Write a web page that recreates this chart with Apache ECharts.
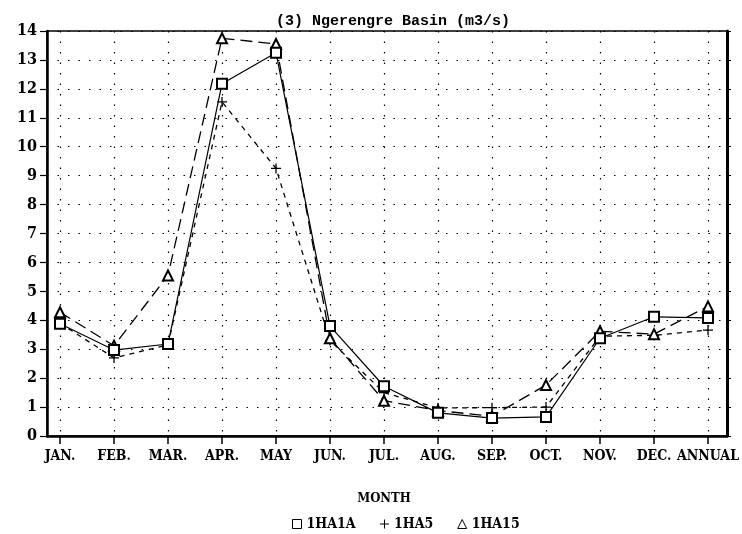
<!DOCTYPE html>
<html><head><meta charset="utf-8">
<script src="https://cdn.jsdelivr.net/npm/echarts@6/dist/echarts.min.js"></script>
<style>html,body{margin:0;padding:0;background:#fff}#c{width:742px;height:534px}</style>
</head><body><div id="c"></div>
<script>
const months = ['JAN.','FEB.','MAR.','APR.','MAY','JUN.','JUL.','AUG.','SEP.','OCT.','NOV.','DEC.','ANNUAL'];
const ha1a = [3.88, 2.97, 3.18, 12.18, 13.25, 3.8, 1.72, 0.8, 0.62, 0.66, 3.38, 4.12, 4.08];
const ha5  = [3.9, 2.7, 3.15, 11.55, 9.25, 3.3, 1.5, 0.97, 0.98, 1.0, 3.45, 3.48, 3.66];
const ha15 = [4.28, 3.12, 5.55, 13.75, 13.55, 3.38, 1.22, 0.88, 0.68, 1.76, 3.62, 3.52, 4.48];
const yTicks = [0,1,2,3,4,5,6,7,8,9,10,11,12,13,14];
const seriesNames = ['1HA1A','1HA5','1HA15'];

const labelFont = "'DejaVu Serif Condensed','DejaVu Serif','Liberation Serif',serif";
const plusPath = 'path://M0,5L10,5M5,0L5,10';
const dotted = {type:[1.5,9], color:'#000', width:1.2};

const chart = echarts.init(document.getElementById('c'), null, {renderer:'canvas'});
chart.setOption({
  backgroundColor:'#fff',
  animation:false,
  title:{
    text:'(3) Ngerengre Basin (m3/s)',
    left:388, top:9, textAlign:'center',
    textStyle:{fontFamily:"'Liberation Mono','DejaVu Sans Mono',monospace", fontSize:15, fontWeight:'bold', color:'#000'}
  },
  legend:{
    left:287, top:512, itemWidth:9, itemHeight:9, itemGap:24,
    textStyle:{fontFamily:labelFont, fontWeight:'bold', fontSize:14, color:'#000'},
    data:[
      {name:seriesNames[0], icon:'rect', itemStyle:{color:'#fff', borderColor:'#000', borderWidth:1}},
      {name:seriesNames[1], icon:plusPath, itemStyle:{color:'#000', borderColor:'#000', borderWidth:1}},
      {name:seriesNames[2], icon:'triangle', itemStyle:{color:'#fff', borderColor:'#000', borderWidth:1}}
    ]
  },
  grid:[
    {left:47, right:15, top:31, bottom:98, show:true, borderColor:'#000', borderWidth:1.5, backgroundColor:'transparent'},
    {left:60, right:32, top:31, bottom:98}
  ],
  xAxis:[
    {gridIndex:0, type:'value', min:0, max:1, axisLabel:{show:false}, axisTick:{show:false}, splitLine:{show:false},
     axisLine:{show:true, lineStyle:{color:'#000', width:2.5}}},
    {gridIndex:1, type:'category', data:months, boundaryGap:false,
     axisLine:{show:false}, axisTick:{show:true, inside:false, length:8, lineStyle:{color:'#000', width:1.5}},
     axisLabel:{fontFamily:labelFont, fontWeight:'bold', fontSize:14, color:'#000', margin:13, interval:0},
     splitLine:{show:true, lineStyle:dotted},
     name:'MONTH', nameLocation:'middle', nameGap:56,
     nameTextStyle:{fontFamily:labelFont, fontWeight:'bold', fontSize:13, color:'#000'}}
  ],
  yAxis:[
    {gridIndex:0, type:'value', min:0, max:14, interval:1,
     axisLine:{show:true, lineStyle:{color:'#000', width:2.5}},
     axisTick:{show:true, inside:false, length:7, lineStyle:{color:'#000', width:1.2}},
     axisLabel:{fontFamily:labelFont, fontWeight:'bold', fontSize:16, color:'#000', margin:10,
       customValues:yTicks},
     splitLine:{show:true, lineStyle:dotted}},
    {gridIndex:0, type:'value', position:'right', min:0, max:14, interval:1,
     axisLine:{show:true, lineStyle:{color:'#000', width:3}},
     axisTick:{show:true, inside:false, length:4, lineStyle:{color:'#000', width:1}},
     axisLabel:{show:false}, splitLine:{show:false}},
    {gridIndex:1, type:'value', min:0, max:14, interval:1, show:false, splitLine:{show:false}}
  ],
  series:[
    {name:seriesNames[0], type:'line', xAxisIndex:1, yAxisIndex:2, data:ha1a,
     symbol:'emptyRect', symbolSize:10, color:'#000',
     itemStyle:{color:'#000', borderColor:'#000', borderWidth:1.1},
     lineStyle:{color:'#000', width:1.2, type:'solid'}, z:3},
    {name:seriesNames[1], type:'line', xAxisIndex:1, yAxisIndex:2, data:ha5,
     symbol:plusPath, symbolSize:10, color:'#000',
     itemStyle:{color:'#000', borderColor:'#000', borderWidth:1.3},
     lineStyle:{color:'#000', width:1.3, type:[5,5]}, z:2},
    {name:seriesNames[2], type:'line', xAxisIndex:1, yAxisIndex:2, data:ha15,
     symbol:'emptyTriangle', symbolSize:10, color:'#000',
     itemStyle:{color:'#000', borderColor:'#000', borderWidth:1.1},
     lineStyle:{color:'#000', width:1.3, type:[12,6]}, z:2}
  ]
});
</script></body></html>
